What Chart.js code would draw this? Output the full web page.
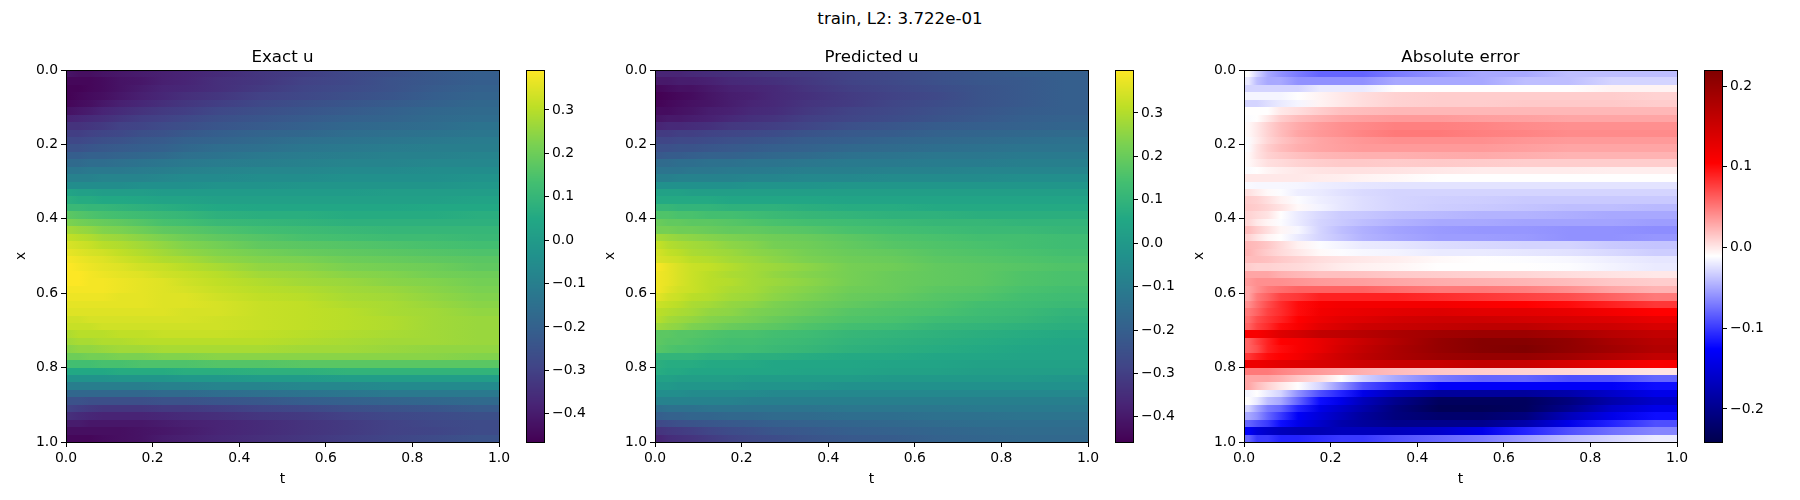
<!DOCTYPE html>
<html>
<head>
<meta charset="utf-8">
<title>train, L2: 3.722e-01</title>
<script src="https://cdn.jsdelivr.net/npm/chart.js@4/dist/chart.umd.js"></script>
<style>
  html, body { margin: 0; padding: 0; background: #fff; }
  #wrap { position: relative; width: 1800px; height: 500px; overflow: hidden; }
  #wrap canvas { position: absolute; top: 0; }
  #suptitle { position: absolute; left: 0; width: 1800px; top: 9px; text-align: center;
              font: 16.67px "DejaVu Sans", sans-serif; color: #000; }
</style>
</head>
<body>
<div id="wrap">
  <div id="suptitle">train, L2: 3.722e-01</div>
  <canvas id="panel0" width="525" height="500"></canvas>
  <canvas id="bar0" width="90" height="500"></canvas>
  <canvas id="panel1" width="525" height="500"></canvas>
  <canvas id="bar1" width="90" height="500"></canvas>
  <canvas id="panel2" width="525" height="500"></canvas>
  <canvas id="bar2" width="90" height="500"></canvas>
</div>
<script>
// t column edges, each row below holds one value per column; rows are x = 0.00-0.02, 0.02-0.04, ...
const tEdges = [0, .02, .04, .07, .1, .15, .2, .25, .3, .4, .5, .6, .7, .8, .9, 1];
const axisTicks = [0, .2, .4, .6, .8, 1];

const exactU = [
[-.42,-.43,-.43,-.42,-.41,-.40,-.39,-.38,-.36,-.33,-.31,-.28,-.26,-.23,-.21],
[-.45,-.45,-.45,-.44,-.42,-.41,-.39,-.38,-.35,-.33,-.30,-.28,-.25,-.23,-.21],
[-.46,-.46,-.45,-.44,-.42,-.40,-.38,-.37,-.35,-.32,-.29,-.27,-.25,-.22,-.20],
[-.46,-.45,-.44,-.43,-.41,-.39,-.37,-.35,-.33,-.30,-.28,-.26,-.24,-.21,-.19],
[-.45,-.44,-.43,-.41,-.39,-.37,-.35,-.33,-.31,-.28,-.26,-.24,-.22,-.20,-.18],
[-.42,-.41,-.40,-.38,-.36,-.34,-.32,-.31,-.28,-.26,-.24,-.22,-.20,-.18,-.17],
[-.38,-.37,-.36,-.35,-.33,-.31,-.30,-.28,-.26,-.24,-.22,-.20,-.19,-.17,-.16],
[-.34,-.34,-.33,-.32,-.30,-.29,-.27,-.26,-.24,-.22,-.20,-.18,-.17,-.16,-.14],
[-.31,-.31,-.30,-.29,-.28,-.26,-.25,-.23,-.21,-.19,-.18,-.16,-.15,-.14,-.13],
[-.28,-.28,-.27,-.26,-.25,-.23,-.22,-.20,-.19,-.17,-.15,-.14,-.13,-.12,-.11],
[-.25,-.25,-.24,-.23,-.22,-.21,-.20,-.18,-.16,-.15,-.13,-.12,-.11,-.10,-.10],
[-.21,-.21,-.20,-.20,-.19,-.18,-.17,-.15,-.14,-.12,-.11,-.10,-.09,-.09,-.08],
[-.17,-.17,-.16,-.16,-.15,-.14,-.13,-.12,-.11,-.10,-.09,-.08,-.08,-.07,-.07],
[-.13,-.13,-.12,-.12,-.12,-.11,-.10,-.09,-.08,-.07,-.07,-.06,-.06,-.05,-.05],
[-.09,-.09,-.09,-.08,-.08,-.08,-.07,-.06,-.06,-.05,-.05,-.04,-.04,-.04,-.03],
[-.05,-.05,-.05,-.05,-.05,-.04,-.04,-.04,-.03,-.03,-.02,-.02,-.02,-.02,-.01],
[.03,.02,.02,.01,.01,.01,.0,.0,.0,.0,.0,.0,.01,.01,.01],
[.07,.06,.06,.05,.05,.04,.03,.03,.02,.02,.02,.02,.02,.02,.03],
[.11,.11,.10,.10,.09,.08,.07,.06,.05,.04,.04,.04,.04,.05,.05],
[.17,.16,.15,.14,.13,.12,.11,.10,.08,.07,.07,.06,.06,.06,.07],
[.22,.21,.20,.19,.18,.16,.14,.13,.11,.10,.09,.08,.08,.08,.08],
[.27,.26,.25,.23,.22,.20,.18,.17,.15,.13,.12,.11,.10,.10,.10],
[.31,.30,.29,.27,.26,.24,.22,.20,.18,.16,.14,.13,.12,.12,.11],
[.34,.33,.32,.30,.29,.27,.25,.23,.21,.18,.17,.16,.15,.14,.13],
[.36,.35,.34,.33,.31,.29,.27,.25,.23,.21,.19,.18,.17,.16,.15],
[.38,.37,.36,.35,.33,.31,.29,.28,.25,.23,.22,.20,.19,.18,.17],
[.39,.38,.37,.36,.35,.33,.32,.30,.28,.25,.24,.22,.21,.20,.18],
[.39,.39,.38,.37,.36,.35,.33,.32,.30,.27,.26,.24,.23,.21,.20],
[.39,.39,.38,.38,.37,.36,.35,.33,.31,.29,.27,.26,.24,.23,.21],
[.38,.38,.38,.38,.37,.36,.35,.34,.32,.30,.29,.27,.26,.24,.22],
[.37,.37,.37,.37,.36,.36,.35,.35,.33,.31,.30,.28,.27,.25,.23],
[.36,.36,.36,.36,.36,.36,.35,.35,.34,.32,.31,.29,.28,.26,.24],
[.35,.35,.35,.35,.35,.35,.35,.34,.34,.32,.31,.30,.28,.27,.25],
[.33,.33,.34,.34,.34,.34,.34,.34,.33,.32,.31,.30,.29,.27,.26],
[.32,.32,.32,.33,.33,.33,.33,.33,.33,.32,.31,.30,.29,.27,.26],
[.29,.30,.30,.30,.31,.31,.32,.32,.32,.31,.30,.29,.28,.27,.26],
[.27,.28,.28,.29,.29,.30,.30,.30,.30,.30,.29,.28,.27,.27,.26],
[.24,.25,.25,.26,.27,.27,.28,.28,.28,.28,.27,.27,.26,.25,.25],
[.20,.20,.21,.21,.22,.22,.23,.23,.24,.24,.24,.24,.24,.24,.23],
[.13,.13,.13,.14,.14,.15,.15,.15,.16,.16,.17,.17,.17,.17,.17],
[.05,.05,.05,.05,.06,.06,.06,.07,.07,.08,.08,.09,.09,.09,.09],
[-.03,-.03,-.03,-.03,-.02,-.02,-.02,-.01,-.01,.0,.0,.01,.01,.01,.01],
[-.10,-.10,-.10,-.10,-.10,-.10,-.09,-.09,-.08,-.08,-.07,-.07,-.06,-.06,-.06],
[-.18,-.18,-.18,-.18,-.18,-.18,-.17,-.17,-.16,-.15,-.14,-.13,-.12,-.12,-.12],
[-.25,-.25,-.26,-.26,-.26,-.26,-.25,-.25,-.24,-.23,-.21,-.20,-.19,-.18,-.17],
[-.30,-.31,-.32,-.33,-.33,-.33,-.32,-.32,-.31,-.29,-.28,-.26,-.25,-.24,-.22],
[-.35,-.36,-.37,-.38,-.38,-.38,-.37,-.36,-.35,-.33,-.32,-.30,-.28,-.27,-.26],
[-.40,-.40,-.41,-.41,-.41,-.41,-.40,-.39,-.38,-.36,-.34,-.32,-.30,-.28,-.27],
[-.43,-.43,-.43,-.43,-.43,-.42,-.41,-.40,-.38,-.36,-.34,-.32,-.30,-.29,-.27],
[-.45,-.45,-.45,-.44,-.43,-.42,-.40,-.39,-.37,-.35,-.33,-.31,-.29,-.27,-.25]
];

const predictedU = [
[-.37,-.37,-.37,-.36,-.35,-.34,-.33,-.32,-.31,-.29,-.27,-.25,-.23,-.21,-.20],
[-.40,-.40,-.39,-.39,-.38,-.36,-.35,-.34,-.32,-.29,-.27,-.25,-.23,-.22,-.20],
[-.44,-.43,-.42,-.42,-.40,-.38,-.37,-.36,-.33,-.30,-.28,-.26,-.24,-.22,-.20],
[-.46,-.45,-.44,-.43,-.41,-.39,-.38,-.36,-.34,-.31,-.29,-.27,-.24,-.22,-.20],
[-.45,-.44,-.43,-.42,-.41,-.39,-.37,-.36,-.33,-.31,-.28,-.26,-.24,-.22,-.20],
[-.43,-.43,-.42,-.41,-.39,-.38,-.36,-.35,-.32,-.29,-.27,-.25,-.23,-.21,-.20],
[-.41,-.40,-.40,-.39,-.38,-.36,-.34,-.33,-.30,-.28,-.26,-.24,-.22,-.20,-.19],
[-.37,-.36,-.36,-.35,-.34,-.32,-.31,-.30,-.28,-.25,-.23,-.21,-.20,-.19,-.18],
[-.31,-.31,-.30,-.30,-.29,-.28,-.27,-.26,-.24,-.22,-.21,-.19,-.18,-.17,-.16],
[-.28,-.28,-.27,-.27,-.26,-.25,-.24,-.23,-.21,-.20,-.18,-.17,-.16,-.15,-.14],
[-.25,-.25,-.24,-.24,-.23,-.22,-.21,-.20,-.19,-.17,-.16,-.15,-.14,-.13,-.13],
[-.22,-.21,-.21,-.20,-.19,-.19,-.18,-.17,-.16,-.14,-.13,-.12,-.12,-.11,-.11],
[-.16,-.16,-.15,-.15,-.14,-.14,-.13,-.13,-.12,-.11,-.11,-.10,-.10,-.09,-.09],
[-.13,-.13,-.13,-.12,-.12,-.11,-.11,-.10,-.09,-.09,-.08,-.08,-.07,-.07,-.07],
[-.09,-.09,-.08,-.08,-.08,-.08,-.07,-.07,-.06,-.06,-.05,-.05,-.05,-.04,-.04],
[-.03,-.03,-.03,-.03,-.03,-.03,-.02,-.02,-.02,-.01,-.01,-.01,-.01,-.01,-.01],
[.03,.03,.03,.02,.02,.02,.02,.02,.02,.02,.02,.02,.02,.02,.02],
[.06,.06,.06,.06,.06,.05,.05,.05,.05,.04,.04,.04,.04,.04,.04],
[.11,.11,.10,.10,.10,.09,.09,.09,.08,.07,.07,.06,.06,.06,.06],
[.16,.16,.15,.15,.14,.14,.13,.12,.11,.10,.09,.09,.08,.08,.08],
[.20,.19,.19,.18,.18,.17,.16,.15,.14,.13,.12,.11,.11,.10,.10],
[.22,.22,.21,.21,.20,.19,.19,.18,.17,.15,.14,.13,.12,.12,.11],
[.28,.27,.26,.25,.24,.23,.22,.21,.20,.18,.16,.15,.14,.14,.13],
[.32,.30,.29,.28,.27,.25,.24,.22,.21,.19,.17,.16,.15,.14,.13],
[.34,.32,.31,.29,.28,.27,.25,.24,.22,.20,.19,.17,.16,.15,.14],
[.35,.34,.33,.31,.30,.28,.27,.25,.23,.21,.20,.18,.17,.16,.15],
[.39,.37,.35,.33,.32,.30,.28,.27,.25,.22,.21,.19,.18,.17,.16],
[.38,.37,.35,.33,.31,.29,.28,.26,.24,.22,.20,.19,.18,.16,.15],
[.38,.37,.35,.33,.31,.30,.28,.27,.25,.22,.20,.19,.18,.16,.15],
[.38,.36,.34,.33,.31,.29,.28,.26,.24,.21,.20,.18,.17,.15,.14],
[.36,.34,.33,.31,.30,.28,.27,.25,.23,.20,.19,.17,.16,.14,.13],
[.33,.32,.31,.29,.28,.26,.25,.23,.21,.19,.17,.16,.14,.13,.12],
[.31,.30,.29,.28,.26,.25,.23,.22,.20,.17,.16,.15,.13,.12,.10],
[.30,.28,.27,.26,.24,.23,.22,.20,.18,.16,.15,.13,.12,.11,.09],
[.27,.26,.25,.23,.22,.20,.19,.18,.16,.14,.13,.11,.10,.09,.08],
[.18,.18,.17,.17,.16,.15,.15,.14,.13,.11,.10,.09,.08,.07,.06],
[.18,.17,.17,.16,.15,.14,.14,.13,.12,.10,.09,.08,.07,.06,.05],
[.17,.16,.15,.15,.14,.13,.13,.12,.11,.09,.08,.07,.06,.05,.04],
[.10,.10,.10,.10,.09,.09,.08,.08,.07,.06,.06,.05,.05,.04,.04],
[.08,.07,.07,.07,.06,.06,.06,.05,.05,.05,.04,.04,.03,.03,.03],
[.07,.06,.06,.05,.05,.05,.05,.05,.04,.04,.03,.03,.02,.02,.02],
[.03,.03,.02,.02,.02,.02,.01,.01,.01,.01,.0,.0,.0,.0,-.01],
[.0,.0,-.01,-.01,-.01,-.01,-.02,-.02,-.02,-.03,-.03,-.03,-.03,-.03,-.03],
[-.04,-.04,-.04,-.05,-.05,-.05,-.05,-.06,-.06,-.06,-.06,-.06,-.06,-.06,-.06],
[-.08,-.08,-.08,-.08,-.08,-.08,-.09,-.09,-.09,-.09,-.09,-.09,-.09,-.09,-.09],
[-.15,-.14,-.14,-.14,-.13,-.13,-.13,-.13,-.13,-.12,-.12,-.12,-.11,-.11,-.11],
[-.20,-.19,-.19,-.18,-.18,-.17,-.17,-.16,-.16,-.15,-.15,-.14,-.14,-.13,-.13],
[-.27,-.26,-.25,-.24,-.23,-.22,-.21,-.20,-.19,-.18,-.17,-.16,-.15,-.15,-.15],
[-.33,-.32,-.31,-.30,-.28,-.26,-.25,-.23,-.22,-.20,-.19,-.18,-.17,-.16,-.16],
[-.37,-.35,-.34,-.33,-.31,-.29,-.27,-.26,-.24,-.22,-.21,-.19,-.18,-.17,-.17]
];

const absError = [
[-.01,-.03,-.05,-.06,-.07,-.08,-.08,-.08,-.07,-.06,-.05,-.05,-.04,-.04,-.04],
[-.02,-.04,-.05,-.05,-.06,-.06,-.06,-.06,-.05,-.05,-.05,-.04,-.04,-.03,-.03],
[-.03,-.03,-.03,-.03,-.03,-.02,-.02,-.02,-.01,-.01,-.01,-.01,-.01,-.005,-.005],
[-.015,-.015,-.015,-.015,-.01,-.005,0,.005,.01,.012,.012,.012,.012,.012,.01],
[-.03,-.03,-.025,-.02,-.015,-.005,0,.005,.01,.012,.012,.014,.014,.014,.012],
[-.01,-.01,-.01,0,.005,.012,.018,.02,.022,.022,.022,.022,.022,.022,.022],
[-.012,-.01,0,.012,.02,.025,.03,.033,.035,.035,.033,.032,.03,.03,.03],
[-.008,0,.01,.02,.028,.035,.04,.043,.047,.047,.045,.042,.04,.04,.04],
[-.008,0,.01,.02,.03,.036,.04,.045,.05,.05,.047,.045,.042,.042,.042],
[-.012,-.002,.008,.016,.024,.03,.034,.037,.04,.04,.04,.037,.035,.035,.035],
[-.012,.002,.012,.02,.026,.03,.033,.035,.035,.035,.035,.033,.03,.03,.03],
[-.008,.002,.01,.014,.018,.022,.024,.025,.025,.027,.028,.026,.024,.024,.024],
[-.008,-.002,.004,.006,.01,.012,.014,.014,.013,.014,.013,.012,.012,.012,.012],
[-.012,-.01,-.006,-.003,0,.002,.003,.003,.002,0,-.002,-.002,-.002,-.003,-.003],
[0,0,0,0,0,-.002,-.003,-.005,-.007,-.01,-.01,-.01,-.01,-.01,-.01],
[-.013,-.014,-.014,-.014,-.015,-.018,-.02,-.022,-.023,-.023,-.023,-.023,-.023,-.023,-.023],
[.003,-.002,-.008,-.012,-.018,-.02,-.024,-.027,-.03,-.03,-.03,-.03,-.03,-.03,-.03],
[.012,.01,.004,-.004,-.012,-.018,-.022,-.026,-.03,-.032,-.033,-.035,-.035,-.035,-.035],
[.014,.012,.008,.002,-.008,-.016,-.022,-.026,-.03,-.033,-.035,-.037,-.04,-.04,-.042],
[.01,.006,.002,-.01,-.02,-.028,-.034,-.036,-.04,-.042,-.045,-.045,-.047,-.05,-.05],
[.008,0,-.006,-.012,-.02,-.03,-.035,-.04,-.045,-.05,-.05,-.052,-.052,-.052,-.055],
[.02,.012,.004,-.006,-.014,-.03,-.04,-.046,-.052,-.056,-.058,-.058,-.06,-.06,-.062],
[.01,.002,-.006,-.01,-.02,-.03,-.037,-.045,-.05,-.055,-.055,-.056,-.06,-.06,-.058],
[.022,.02,.015,.006,-.004,-.012,-.016,-.02,-.022,-.026,-.028,-.03,-.03,-.035,-.037],
[.024,.018,.012,.006,0,-.008,-.012,-.014,-.016,-.02,-.02,-.022,-.024,-.028,-.033],
[.02,.02,.018,.014,.01,.005,.002,0,-.003,-.008,-.01,-.012,-.014,-.018,-.022],
[.012,.01,.01,.008,.006,.002,-.002,-.004,-.006,-.01,-.01,-.01,-.012,-.016,-.02],
[.03,.03,.03,.025,.022,.018,.018,.017,.014,.012,.01,.008,.005,.002,0],
[.035,.04,.04,.04,.038,.035,.034,.033,.03,.027,.025,.023,.02,.015,.012],
[.03,.04,.05,.055,.06,.06,.06,.06,.055,.05,.05,.047,.04,.03,.024],
[.03,.05,.06,.075,.08,.09,.09,.09,.09,.085,.08,.075,.07,.06,.05],
[.04,.055,.07,.085,.1,.11,.115,.115,.115,.115,.11,.105,.1,.09,.08],
[.05,.06,.075,.085,.1,.115,.12,.125,.13,.135,.13,.13,.125,.115,.105],
[.055,.07,.08,.09,.105,.12,.13,.135,.145,.15,.15,.145,.14,.135,.125],
[.06,.075,.085,.1,.11,.13,.14,.15,.155,.16,.165,.165,.155,.15,.14],
[.11,.11,.12,.135,.145,.16,.165,.17,.18,.19,.195,.195,.185,.17,.16],
[.06,.075,.09,.105,.11,.125,.14,.155,.175,.2,.215,.215,.205,.185,.17],
[.06,.07,.09,.1,.11,.125,.145,.16,.18,.2,.215,.22,.205,.19,.175],
[.08,.09,.1,.105,.115,.135,.15,.165,.18,.195,.2,.2,.19,.175,.16],
[.12,.12,.125,.13,.135,.14,.145,.15,.155,.155,.16,.155,.14,.125,.11],
[.05,.05,.05,.045,.04,.035,.03,.025,.02,.015,.012,.01,.008,.005,.002],
[.03,.03,.03,.025,.015,.005,-.01,-.03,-.05,-.07,-.08,-.08,-.09,-.09,-.08],
[.03,.02,.01,0,-.01,-.03,-.06,-.09,-.11,-.13,-.13,-.13,-.13,-.13,-.12],
[-.015,-.01,-.02,-.03,-.06,-.09,-.11,-.14,-.17,-.19,-.19,-.19,-.18,-.16,-.14],
[-.01,-.02,-.04,-.05,-.08,-.12,-.14,-.17,-.2,-.23,-.23,-.23,-.21,-.18,-.16],
[-.03,-.05,-.07,-.08,-.11,-.14,-.16,-.18,-.21,-.235,-.235,-.23,-.2,-.16,-.14],
[-.05,-.06,-.08,-.1,-.13,-.15,-.17,-.19,-.21,-.22,-.22,-.21,-.17,-.14,-.12],
[-.08,-.09,-.1,-.12,-.14,-.16,-.18,-.19,-.2,-.2,-.2,-.18,-.14,-.11,-.09],
[-.13,-.15,-.16,-.17,-.175,-.175,-.17,-.17,-.17,-.16,-.14,-.11,-.09,-.075,-.065],
[-.08,-.1,-.1,-.11,-.11,-.105,-.1,-.1,-.09,-.08,-.07,-.055,-.04,-.03,-.02]
];

const panelTitles = ["Exact u", "Predicted u", "Absolute error"];
const panelValues = [exactU, predictedU, absError];
const colorRanges = [[-.465, .392], [-.458, .399], [-.241, .22]];
const barTicks = [
  [-.4, -.3, -.2, -.1, 0, .1, .2, .3],
  [-.4, -.3, -.2, -.1, 0, .1, .2, .3],
  [-.2, -.1, 0, .1, .2]
];

// colormap stops
const VIRIDIS = ["#440154","#482475","#414487","#355f8d","#2a788e","#21918c","#22a884","#44bf70","#7ad151","#bddf26","#fde725"];
const SEISMIC = ["#00004d","#0000ff","#ffffff","#ff0000","#800000"];
const panelMaps = [VIRIDIS, VIRIDIS, SEISMIC];

function hexRgb(h) {
  return [1, 3, 5].map(i => parseInt(h.slice(i, i + 2), 16));
}
function colorAt(stops, f) {
  f = Math.max(0, Math.min(1, f)) * (stops.length - 1);
  const i = Math.min(Math.floor(f), stops.length - 2);
  const a = hexRgb(stops[i]), b = hexRgb(stops[i + 1]), k = f - i;
  return `rgb(${a.map((c, n) => Math.round(c + (b[n] - c) * k)).join(",")})`;
}

const FONT = "'DejaVu Sans', sans-serif";
const TICK_FONT = { family: FONT, size: 13.9 };
const fmt = v => v.toFixed(1).replace("-", "\u2212");

// layout, in page pixels
const PANEL_LEFT = [66, 655, 1244];
const PANEL_W = 433, TOP = 70, BOTTOM = 442;
const BAR_LEFT = [526, 1115, 1704];
const BAR_W = 18;

// each row is shaded left to right through its cells, positions come from the chart's scales
const heatmapPlugin = {
  id: "heatmap",
  beforeDatasetsDraw(chart) {
    const { ctx, chartArea: a, scales: { x, y } } = chart;
    const cfg = chart.options.plugins.heatmap;
    const points = chart.data.datasets[0].data;
    const nCols = tEdges.length - 1;
    for (let s = 0; s < points.length; s += nCols) {
      const row = points.slice(s, s + nCols);
      const y0 = Math.round(y.getPixelForValue(row[0].x0)), y1 = Math.round(y.getPixelForValue(row[0].x1));
      const grad = ctx.createLinearGradient(a.left, 0, a.right, 0);
      row.forEach(p => {
        const f = (x.getPixelForValue(p.x) - a.left) / (a.right - a.left);
        grad.addColorStop(f, colorAt(cfg.stops, (p.v - cfg.min) / (cfg.max - cfg.min)));
      });
      ctx.fillStyle = grad;
      ctx.fillRect(a.left, y0, a.right - a.left, y1 - y0);
    }
  },
  afterDraw(chart) {
    const { ctx, chartArea: a } = chart;
    ctx.save();
    ctx.strokeStyle = "#000";
    ctx.lineWidth = 1;
    ctx.strokeRect(a.left + .5, a.top + .5, a.right - a.left, a.bottom - a.top);
    ctx.restore();
  }
};

const colorbarPlugin = {
  id: "colorbar",
  beforeDatasetsDraw(chart) {
    const { ctx, chartArea: a, scales: { y } } = chart;
    const cfg = chart.options.plugins.colorbar;
    for (let py = Math.round(a.top); py < a.bottom; py++) {
      const v = y.getValueForPixel(py + .5);
      ctx.fillStyle = colorAt(cfg.stops, (v - cfg.min) / (cfg.max - cfg.min));
      ctx.fillRect(a.left, py, a.right - a.left, 1);
    }
  },
  afterDraw: heatmapPlugin.afterDraw
};

function makePanel(i) {
  const rows = panelValues[i];
  const points = [];
  rows.forEach((row, r) => row.forEach((v, c) => {
    points.push({
      x: (tEdges[c] + tEdges[c + 1]) / 2, y: (r + .5) / rows.length,
      x0: r / rows.length, x1: (r + 1) / rows.length, v
    });
  }));
  const canvas = document.getElementById("panel" + i);
  canvas.style.left = (PANEL_LEFT[i] - 66) + "px";
  const tickSetup = { display: true, tickLength: 5, tickColor: "#000", tickWidth: 1, drawOnChartArea: false };
  return new Chart(canvas, {
    type: "scatter",
    data: { datasets: [{ data: points, pointRadius: 0 }] },
    options: {
      responsive: false,
      animation: false,
      events: [],
      layout: { padding: { left: 9, right: 525 - 66 - PANEL_W, top: TOP - 22, bottom: 12 } },
      plugins: {
        legend: { display: false },
        tooltip: { enabled: false },
        title: {
          display: true, text: panelTitles[i], color: "#000", fullSize: false,
          font: { family: FONT, size: 16.67, weight: "normal" }, padding: { top: 0, bottom: 2 }
        },
        heatmap: { stops: panelMaps[i], min: colorRanges[i][0], max: colorRanges[i][1] }
      },
      scales: {
        x: {
          type: "linear", min: 0, max: 1,
          afterBuildTicks: s => { s.ticks = axisTicks.map(value => ({ value })); },
          afterFit: s => { s.height = 500 - BOTTOM - 12; },
          grid: tickSetup, border: { display: false },
          ticks: { color: "#000", font: TICK_FONT, padding: 3, maxRotation: 0, callback: fmt },
          title: { display: true, text: "t", color: "#000", font: TICK_FONT, padding: { top: 4, bottom: 0 } }
        },
        y: {
          type: "linear", min: 0, max: 1, reverse: true,
          afterBuildTicks: s => { s.ticks = axisTicks.map(value => ({ value })); },
          afterFit: s => { s.width = 66 - 9; },
          grid: tickSetup, border: { display: false },
          ticks: { color: "#000", font: TICK_FONT, padding: 3, callback: fmt },
          title: { display: true, text: "x", color: "#000", font: TICK_FONT, padding: { top: 4, bottom: 0 } }
        }
      }
    },
    plugins: [heatmapPlugin]
  });
}

function makeBar(i) {
  const canvas = document.getElementById("bar" + i);
  canvas.style.left = BAR_LEFT[i] + "px";
  const [min, max] = colorRanges[i];
  return new Chart(canvas, {
    type: "scatter",
    data: { datasets: [{ data: [], pointRadius: 0 }] },
    options: {
      responsive: false,
      animation: false,
      events: [],
      layout: { padding: { left: 0, right: 90 - BAR_W - 60, top: TOP, bottom: 500 - BOTTOM } },
      plugins: {
        legend: { display: false },
        tooltip: { enabled: false },
        colorbar: { stops: panelMaps[i], min, max }
      },
      scales: {
        x: { type: "linear", display: false, min: 0, max: 1 },
        y: {
          type: "linear", position: "right", min, max,
          afterBuildTicks: s => { s.ticks = barTicks[i].map(value => ({ value })); },
          afterFit: s => { s.width = 60; },
          grid: { display: true, tickLength: 5, tickColor: "#000", drawOnChartArea: false },
          border: { display: false },
          ticks: { color: "#000", font: TICK_FONT, padding: 3, callback: fmt }
        }
      }
    },
    plugins: [colorbarPlugin]
  });
}

[0, 1, 2].forEach(i => { makePanel(i); makeBar(i); });
</script>
</body>
</html>
